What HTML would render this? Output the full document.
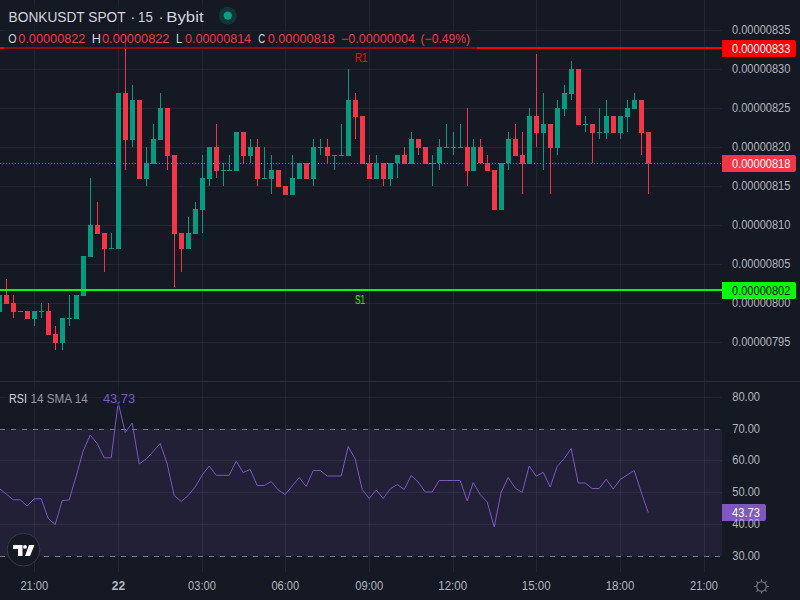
<!DOCTYPE html>
<html><head><meta charset="utf-8"><style>
html,body{margin:0;padding:0;width:800px;height:600px;overflow:hidden;background:#151924;}
svg{position:absolute;left:0;top:0;}
text{font-family:'Liberation Sans', sans-serif;}
</style></head><body>
<svg width="800" height="600" viewBox="0 0 800 600">
<rect shape-rendering="crispEdges" x="0" y="0" width="800" height="600" fill="#151924"/>
<rect shape-rendering="crispEdges" x="0" y="429" width="722" height="127" fill="#7E57C2" fill-opacity="0.12"/>
<rect shape-rendering="crispEdges" x="34" y="0" width="1" height="381" fill="#FFFFFF" fill-opacity="0.058"/>
<rect shape-rendering="crispEdges" x="34" y="382" width="1" height="190" fill="#FFFFFF" fill-opacity="0.058"/>
<rect shape-rendering="crispEdges" x="118" y="0" width="1" height="381" fill="#FFFFFF" fill-opacity="0.058"/>
<rect shape-rendering="crispEdges" x="118" y="382" width="1" height="190" fill="#FFFFFF" fill-opacity="0.058"/>
<rect shape-rendering="crispEdges" x="202" y="0" width="1" height="381" fill="#FFFFFF" fill-opacity="0.058"/>
<rect shape-rendering="crispEdges" x="202" y="382" width="1" height="190" fill="#FFFFFF" fill-opacity="0.058"/>
<rect shape-rendering="crispEdges" x="285" y="0" width="1" height="381" fill="#FFFFFF" fill-opacity="0.058"/>
<rect shape-rendering="crispEdges" x="285" y="382" width="1" height="190" fill="#FFFFFF" fill-opacity="0.058"/>
<rect shape-rendering="crispEdges" x="369" y="0" width="1" height="381" fill="#FFFFFF" fill-opacity="0.058"/>
<rect shape-rendering="crispEdges" x="369" y="382" width="1" height="190" fill="#FFFFFF" fill-opacity="0.058"/>
<rect shape-rendering="crispEdges" x="453" y="0" width="1" height="381" fill="#FFFFFF" fill-opacity="0.058"/>
<rect shape-rendering="crispEdges" x="453" y="382" width="1" height="190" fill="#FFFFFF" fill-opacity="0.058"/>
<rect shape-rendering="crispEdges" x="536" y="0" width="1" height="381" fill="#FFFFFF" fill-opacity="0.058"/>
<rect shape-rendering="crispEdges" x="536" y="382" width="1" height="190" fill="#FFFFFF" fill-opacity="0.058"/>
<rect shape-rendering="crispEdges" x="620" y="0" width="1" height="381" fill="#FFFFFF" fill-opacity="0.058"/>
<rect shape-rendering="crispEdges" x="620" y="382" width="1" height="190" fill="#FFFFFF" fill-opacity="0.058"/>
<rect shape-rendering="crispEdges" x="704" y="0" width="1" height="381" fill="#FFFFFF" fill-opacity="0.058"/>
<rect shape-rendering="crispEdges" x="704" y="382" width="1" height="190" fill="#FFFFFF" fill-opacity="0.058"/>
<rect shape-rendering="crispEdges" x="0" y="30" width="722" height="1" fill="#FFFFFF" fill-opacity="0.058"/>
<rect shape-rendering="crispEdges" x="0" y="69" width="722" height="1" fill="#FFFFFF" fill-opacity="0.058"/>
<rect shape-rendering="crispEdges" x="0" y="108" width="722" height="1" fill="#FFFFFF" fill-opacity="0.058"/>
<rect shape-rendering="crispEdges" x="0" y="147" width="722" height="1" fill="#FFFFFF" fill-opacity="0.058"/>
<rect shape-rendering="crispEdges" x="0" y="186" width="722" height="1" fill="#FFFFFF" fill-opacity="0.058"/>
<rect shape-rendering="crispEdges" x="0" y="225" width="722" height="1" fill="#FFFFFF" fill-opacity="0.058"/>
<rect shape-rendering="crispEdges" x="0" y="264" width="722" height="1" fill="#FFFFFF" fill-opacity="0.058"/>
<rect shape-rendering="crispEdges" x="0" y="303" width="722" height="1" fill="#FFFFFF" fill-opacity="0.058"/>
<rect shape-rendering="crispEdges" x="0" y="342" width="722" height="1" fill="#FFFFFF" fill-opacity="0.058"/>
<rect shape-rendering="crispEdges" x="0" y="397" width="722" height="1" fill="#FFFFFF" fill-opacity="0.058"/>
<rect shape-rendering="crispEdges" x="0" y="460" width="722" height="1" fill="#FFFFFF" fill-opacity="0.058"/>
<rect shape-rendering="crispEdges" x="0" y="492" width="722" height="1" fill="#FFFFFF" fill-opacity="0.058"/>
<rect shape-rendering="crispEdges" x="0" y="524" width="722" height="1" fill="#FFFFFF" fill-opacity="0.058"/>
<rect shape-rendering="crispEdges" x="0" y="381" width="800" height="1" fill="#2A2E39"/>
<rect shape-rendering="crispEdges" x="-1" y="295" width="1" height="17" fill="#089981"/>
<rect shape-rendering="crispEdges" x="-3" y="295" width="5" height="17" fill="#089981"/>
<rect shape-rendering="crispEdges" x="6" y="279" width="1" height="25" fill="#F23645"/>
<rect shape-rendering="crispEdges" x="4" y="295" width="5" height="9" fill="#F23645"/>
<rect shape-rendering="crispEdges" x="13" y="295" width="1" height="23" fill="#F23645"/>
<rect shape-rendering="crispEdges" x="11" y="303" width="5" height="9" fill="#F23645"/>
<rect shape-rendering="crispEdges" x="20" y="311" width="1" height="1" fill="#089981"/>
<rect shape-rendering="crispEdges" x="18" y="311" width="5" height="1" fill="#089981"/>
<rect shape-rendering="crispEdges" x="27" y="311" width="1" height="8" fill="#F23645"/>
<rect shape-rendering="crispEdges" x="25" y="311" width="5" height="8" fill="#F23645"/>
<rect shape-rendering="crispEdges" x="34" y="311" width="1" height="15" fill="#089981"/>
<rect shape-rendering="crispEdges" x="32" y="311" width="5" height="8" fill="#089981"/>
<rect shape-rendering="crispEdges" x="41" y="303" width="1" height="15" fill="#089981"/>
<rect shape-rendering="crispEdges" x="39" y="311" width="5" height="1" fill="#089981"/>
<rect shape-rendering="crispEdges" x="48" y="303" width="1" height="32" fill="#F23645"/>
<rect shape-rendering="crispEdges" x="46" y="311" width="5" height="24" fill="#F23645"/>
<rect shape-rendering="crispEdges" x="55" y="326" width="1" height="24" fill="#F23645"/>
<rect shape-rendering="crispEdges" x="53" y="334" width="5" height="9" fill="#F23645"/>
<rect shape-rendering="crispEdges" x="62" y="318" width="1" height="32" fill="#089981"/>
<rect shape-rendering="crispEdges" x="60" y="318" width="5" height="25" fill="#089981"/>
<rect shape-rendering="crispEdges" x="69" y="295" width="1" height="31" fill="#089981"/>
<rect shape-rendering="crispEdges" x="67" y="318" width="5" height="1" fill="#089981"/>
<rect shape-rendering="crispEdges" x="76" y="295" width="1" height="24" fill="#089981"/>
<rect shape-rendering="crispEdges" x="74" y="295" width="5" height="24" fill="#089981"/>
<rect shape-rendering="crispEdges" x="83" y="256" width="1" height="40" fill="#089981"/>
<rect shape-rendering="crispEdges" x="81" y="256" width="5" height="40" fill="#089981"/>
<rect shape-rendering="crispEdges" x="90" y="178" width="1" height="79" fill="#089981"/>
<rect shape-rendering="crispEdges" x="88" y="225" width="5" height="32" fill="#089981"/>
<rect shape-rendering="crispEdges" x="97" y="202" width="1" height="32" fill="#F23645"/>
<rect shape-rendering="crispEdges" x="95" y="225" width="5" height="9" fill="#F23645"/>
<rect shape-rendering="crispEdges" x="104" y="233" width="1" height="39" fill="#F23645"/>
<rect shape-rendering="crispEdges" x="102" y="233" width="5" height="16" fill="#F23645"/>
<rect shape-rendering="crispEdges" x="111" y="233" width="1" height="16" fill="#089981"/>
<rect shape-rendering="crispEdges" x="109" y="248" width="5" height="1" fill="#089981"/>
<rect shape-rendering="crispEdges" x="118" y="93" width="1" height="156" fill="#089981"/>
<rect shape-rendering="crispEdges" x="116" y="93" width="5" height="156" fill="#089981"/>
<rect shape-rendering="crispEdges" x="125" y="35" width="1" height="135" fill="#F23645"/>
<rect shape-rendering="crispEdges" x="123" y="93" width="5" height="47" fill="#F23645"/>
<rect shape-rendering="crispEdges" x="132" y="85" width="1" height="62" fill="#089981"/>
<rect shape-rendering="crispEdges" x="130" y="100" width="5" height="40" fill="#089981"/>
<rect shape-rendering="crispEdges" x="139" y="100" width="1" height="79" fill="#F23645"/>
<rect shape-rendering="crispEdges" x="137" y="100" width="5" height="79" fill="#F23645"/>
<rect shape-rendering="crispEdges" x="146" y="147" width="1" height="39" fill="#089981"/>
<rect shape-rendering="crispEdges" x="144" y="163" width="5" height="16" fill="#089981"/>
<rect shape-rendering="crispEdges" x="153" y="124" width="1" height="40" fill="#089981"/>
<rect shape-rendering="crispEdges" x="151" y="139" width="5" height="25" fill="#089981"/>
<rect shape-rendering="crispEdges" x="160" y="93" width="1" height="47" fill="#089981"/>
<rect shape-rendering="crispEdges" x="158" y="108" width="5" height="32" fill="#089981"/>
<rect shape-rendering="crispEdges" x="167" y="108" width="1" height="62" fill="#F23645"/>
<rect shape-rendering="crispEdges" x="165" y="108" width="5" height="48" fill="#F23645"/>
<rect shape-rendering="crispEdges" x="174" y="155" width="1" height="132" fill="#F23645"/>
<rect shape-rendering="crispEdges" x="172" y="155" width="5" height="79" fill="#F23645"/>
<rect shape-rendering="crispEdges" x="181" y="233" width="1" height="39" fill="#F23645"/>
<rect shape-rendering="crispEdges" x="179" y="233" width="5" height="16" fill="#F23645"/>
<rect shape-rendering="crispEdges" x="188" y="217" width="1" height="32" fill="#089981"/>
<rect shape-rendering="crispEdges" x="186" y="233" width="5" height="16" fill="#089981"/>
<rect shape-rendering="crispEdges" x="195" y="202" width="1" height="32" fill="#089981"/>
<rect shape-rendering="crispEdges" x="193" y="209" width="5" height="25" fill="#089981"/>
<rect shape-rendering="crispEdges" x="202" y="155" width="1" height="78" fill="#089981"/>
<rect shape-rendering="crispEdges" x="200" y="178" width="5" height="32" fill="#089981"/>
<rect shape-rendering="crispEdges" x="209" y="147" width="1" height="39" fill="#089981"/>
<rect shape-rendering="crispEdges" x="207" y="147" width="5" height="32" fill="#089981"/>
<rect shape-rendering="crispEdges" x="216" y="124" width="1" height="54" fill="#F23645"/>
<rect shape-rendering="crispEdges" x="214" y="147" width="5" height="24" fill="#F23645"/>
<rect shape-rendering="crispEdges" x="223" y="163" width="1" height="23" fill="#089981"/>
<rect shape-rendering="crispEdges" x="221" y="170" width="5" height="1" fill="#089981"/>
<rect shape-rendering="crispEdges" x="229" y="155" width="1" height="16" fill="#089981"/>
<rect shape-rendering="crispEdges" x="227" y="170" width="5" height="1" fill="#089981"/>
<rect shape-rendering="crispEdges" x="236" y="132" width="1" height="39" fill="#089981"/>
<rect shape-rendering="crispEdges" x="234" y="132" width="5" height="39" fill="#089981"/>
<rect shape-rendering="crispEdges" x="243" y="132" width="1" height="32" fill="#F23645"/>
<rect shape-rendering="crispEdges" x="241" y="132" width="5" height="24" fill="#F23645"/>
<rect shape-rendering="crispEdges" x="250" y="139" width="1" height="24" fill="#089981"/>
<rect shape-rendering="crispEdges" x="248" y="147" width="5" height="9" fill="#089981"/>
<rect shape-rendering="crispEdges" x="257" y="139" width="1" height="47" fill="#F23645"/>
<rect shape-rendering="crispEdges" x="255" y="147" width="5" height="32" fill="#F23645"/>
<rect shape-rendering="crispEdges" x="264" y="147" width="1" height="32" fill="#089981"/>
<rect shape-rendering="crispEdges" x="262" y="178" width="5" height="1" fill="#089981"/>
<rect shape-rendering="crispEdges" x="271" y="155" width="1" height="39" fill="#089981"/>
<rect shape-rendering="crispEdges" x="269" y="170" width="5" height="9" fill="#089981"/>
<rect shape-rendering="crispEdges" x="278" y="170" width="1" height="17" fill="#F23645"/>
<rect shape-rendering="crispEdges" x="276" y="170" width="5" height="17" fill="#F23645"/>
<rect shape-rendering="crispEdges" x="285" y="186" width="1" height="9" fill="#F23645"/>
<rect shape-rendering="crispEdges" x="283" y="186" width="5" height="9" fill="#F23645"/>
<rect shape-rendering="crispEdges" x="292" y="155" width="1" height="40" fill="#089981"/>
<rect shape-rendering="crispEdges" x="290" y="178" width="5" height="17" fill="#089981"/>
<rect shape-rendering="crispEdges" x="299" y="163" width="1" height="16" fill="#089981"/>
<rect shape-rendering="crispEdges" x="297" y="163" width="5" height="16" fill="#089981"/>
<rect shape-rendering="crispEdges" x="306" y="163" width="1" height="16" fill="#F23645"/>
<rect shape-rendering="crispEdges" x="304" y="163" width="5" height="16" fill="#F23645"/>
<rect shape-rendering="crispEdges" x="313" y="139" width="1" height="47" fill="#089981"/>
<rect shape-rendering="crispEdges" x="311" y="147" width="5" height="32" fill="#089981"/>
<rect shape-rendering="crispEdges" x="320" y="139" width="1" height="16" fill="#089981"/>
<rect shape-rendering="crispEdges" x="318" y="147" width="5" height="1" fill="#089981"/>
<rect shape-rendering="crispEdges" x="327" y="139" width="1" height="25" fill="#F23645"/>
<rect shape-rendering="crispEdges" x="325" y="147" width="5" height="9" fill="#F23645"/>
<rect shape-rendering="crispEdges" x="334" y="155" width="1" height="15" fill="#089981"/>
<rect shape-rendering="crispEdges" x="332" y="155" width="5" height="1" fill="#089981"/>
<rect shape-rendering="crispEdges" x="341" y="124" width="1" height="32" fill="#089981"/>
<rect shape-rendering="crispEdges" x="339" y="155" width="5" height="1" fill="#089981"/>
<rect shape-rendering="crispEdges" x="348" y="69" width="1" height="87" fill="#089981"/>
<rect shape-rendering="crispEdges" x="346" y="100" width="5" height="56" fill="#089981"/>
<rect shape-rendering="crispEdges" x="355" y="93" width="1" height="46" fill="#F23645"/>
<rect shape-rendering="crispEdges" x="353" y="100" width="5" height="17" fill="#F23645"/>
<rect shape-rendering="crispEdges" x="362" y="116" width="1" height="48" fill="#F23645"/>
<rect shape-rendering="crispEdges" x="360" y="116" width="5" height="48" fill="#F23645"/>
<rect shape-rendering="crispEdges" x="369" y="155" width="1" height="24" fill="#F23645"/>
<rect shape-rendering="crispEdges" x="367" y="163" width="5" height="16" fill="#F23645"/>
<rect shape-rendering="crispEdges" x="376" y="155" width="1" height="24" fill="#089981"/>
<rect shape-rendering="crispEdges" x="374" y="163" width="5" height="16" fill="#089981"/>
<rect shape-rendering="crispEdges" x="383" y="163" width="1" height="23" fill="#F23645"/>
<rect shape-rendering="crispEdges" x="381" y="163" width="5" height="16" fill="#F23645"/>
<rect shape-rendering="crispEdges" x="390" y="163" width="1" height="23" fill="#089981"/>
<rect shape-rendering="crispEdges" x="388" y="163" width="5" height="16" fill="#089981"/>
<rect shape-rendering="crispEdges" x="397" y="155" width="1" height="23" fill="#089981"/>
<rect shape-rendering="crispEdges" x="395" y="155" width="5" height="8" fill="#089981"/>
<rect shape-rendering="crispEdges" x="404" y="147" width="1" height="17" fill="#F23645"/>
<rect shape-rendering="crispEdges" x="402" y="155" width="5" height="9" fill="#F23645"/>
<rect shape-rendering="crispEdges" x="411" y="132" width="1" height="32" fill="#089981"/>
<rect shape-rendering="crispEdges" x="409" y="139" width="5" height="25" fill="#089981"/>
<rect shape-rendering="crispEdges" x="418" y="139" width="1" height="16" fill="#F23645"/>
<rect shape-rendering="crispEdges" x="416" y="139" width="5" height="9" fill="#F23645"/>
<rect shape-rendering="crispEdges" x="425" y="147" width="1" height="17" fill="#F23645"/>
<rect shape-rendering="crispEdges" x="423" y="147" width="5" height="17" fill="#F23645"/>
<rect shape-rendering="crispEdges" x="432" y="155" width="1" height="31" fill="#089981"/>
<rect shape-rendering="crispEdges" x="430" y="163" width="5" height="1" fill="#089981"/>
<rect shape-rendering="crispEdges" x="439" y="139" width="1" height="31" fill="#089981"/>
<rect shape-rendering="crispEdges" x="437" y="147" width="5" height="16" fill="#089981"/>
<rect shape-rendering="crispEdges" x="446" y="124" width="1" height="24" fill="#089981"/>
<rect shape-rendering="crispEdges" x="444" y="147" width="5" height="1" fill="#089981"/>
<rect shape-rendering="crispEdges" x="453" y="132" width="1" height="23" fill="#089981"/>
<rect shape-rendering="crispEdges" x="451" y="147" width="5" height="1" fill="#089981"/>
<rect shape-rendering="crispEdges" x="460" y="124" width="1" height="24" fill="#089981"/>
<rect shape-rendering="crispEdges" x="458" y="147" width="5" height="1" fill="#089981"/>
<rect shape-rendering="crispEdges" x="467" y="108" width="1" height="78" fill="#F23645"/>
<rect shape-rendering="crispEdges" x="465" y="147" width="5" height="24" fill="#F23645"/>
<rect shape-rendering="crispEdges" x="473" y="139" width="1" height="32" fill="#089981"/>
<rect shape-rendering="crispEdges" x="471" y="147" width="5" height="24" fill="#089981"/>
<rect shape-rendering="crispEdges" x="480" y="139" width="1" height="24" fill="#F23645"/>
<rect shape-rendering="crispEdges" x="478" y="147" width="5" height="16" fill="#F23645"/>
<rect shape-rendering="crispEdges" x="487" y="155" width="1" height="16" fill="#F23645"/>
<rect shape-rendering="crispEdges" x="485" y="163" width="5" height="8" fill="#F23645"/>
<rect shape-rendering="crispEdges" x="494" y="170" width="1" height="40" fill="#F23645"/>
<rect shape-rendering="crispEdges" x="492" y="170" width="5" height="40" fill="#F23645"/>
<rect shape-rendering="crispEdges" x="501" y="163" width="1" height="47" fill="#089981"/>
<rect shape-rendering="crispEdges" x="499" y="163" width="5" height="47" fill="#089981"/>
<rect shape-rendering="crispEdges" x="508" y="132" width="1" height="38" fill="#089981"/>
<rect shape-rendering="crispEdges" x="506" y="139" width="5" height="24" fill="#089981"/>
<rect shape-rendering="crispEdges" x="515" y="124" width="1" height="32" fill="#F23645"/>
<rect shape-rendering="crispEdges" x="513" y="139" width="5" height="17" fill="#F23645"/>
<rect shape-rendering="crispEdges" x="522" y="132" width="1" height="62" fill="#F23645"/>
<rect shape-rendering="crispEdges" x="520" y="155" width="5" height="9" fill="#F23645"/>
<rect shape-rendering="crispEdges" x="529" y="108" width="1" height="56" fill="#089981"/>
<rect shape-rendering="crispEdges" x="527" y="116" width="5" height="48" fill="#089981"/>
<rect shape-rendering="crispEdges" x="536" y="54" width="1" height="93" fill="#F23645"/>
<rect shape-rendering="crispEdges" x="534" y="116" width="5" height="17" fill="#F23645"/>
<rect shape-rendering="crispEdges" x="543" y="93" width="1" height="77" fill="#089981"/>
<rect shape-rendering="crispEdges" x="541" y="124" width="5" height="9" fill="#089981"/>
<rect shape-rendering="crispEdges" x="550" y="124" width="1" height="70" fill="#F23645"/>
<rect shape-rendering="crispEdges" x="548" y="124" width="5" height="24" fill="#F23645"/>
<rect shape-rendering="crispEdges" x="557" y="100" width="1" height="55" fill="#089981"/>
<rect shape-rendering="crispEdges" x="555" y="108" width="5" height="40" fill="#089981"/>
<rect shape-rendering="crispEdges" x="564" y="85" width="1" height="31" fill="#089981"/>
<rect shape-rendering="crispEdges" x="562" y="93" width="5" height="16" fill="#089981"/>
<rect shape-rendering="crispEdges" x="571" y="61" width="1" height="39" fill="#089981"/>
<rect shape-rendering="crispEdges" x="569" y="69" width="5" height="25" fill="#089981"/>
<rect shape-rendering="crispEdges" x="578" y="69" width="1" height="56" fill="#F23645"/>
<rect shape-rendering="crispEdges" x="576" y="69" width="5" height="56" fill="#F23645"/>
<rect shape-rendering="crispEdges" x="585" y="116" width="1" height="16" fill="#089981"/>
<rect shape-rendering="crispEdges" x="583" y="124" width="5" height="1" fill="#089981"/>
<rect shape-rendering="crispEdges" x="592" y="124" width="1" height="39" fill="#F23645"/>
<rect shape-rendering="crispEdges" x="590" y="124" width="5" height="9" fill="#F23645"/>
<rect shape-rendering="crispEdges" x="599" y="108" width="1" height="31" fill="#089981"/>
<rect shape-rendering="crispEdges" x="597" y="132" width="5" height="1" fill="#089981"/>
<rect shape-rendering="crispEdges" x="606" y="100" width="1" height="39" fill="#089981"/>
<rect shape-rendering="crispEdges" x="604" y="116" width="5" height="17" fill="#089981"/>
<rect shape-rendering="crispEdges" x="613" y="116" width="1" height="17" fill="#F23645"/>
<rect shape-rendering="crispEdges" x="611" y="116" width="5" height="17" fill="#F23645"/>
<rect shape-rendering="crispEdges" x="620" y="116" width="1" height="23" fill="#089981"/>
<rect shape-rendering="crispEdges" x="618" y="116" width="5" height="17" fill="#089981"/>
<rect shape-rendering="crispEdges" x="627" y="100" width="1" height="32" fill="#089981"/>
<rect shape-rendering="crispEdges" x="625" y="108" width="5" height="9" fill="#089981"/>
<rect shape-rendering="crispEdges" x="634" y="93" width="1" height="16" fill="#089981"/>
<rect shape-rendering="crispEdges" x="632" y="100" width="5" height="9" fill="#089981"/>
<rect shape-rendering="crispEdges" x="641" y="100" width="1" height="55" fill="#F23645"/>
<rect shape-rendering="crispEdges" x="639" y="100" width="5" height="33" fill="#F23645"/>
<rect shape-rendering="crispEdges" x="648" y="132" width="1" height="62" fill="#F23645"/>
<rect shape-rendering="crispEdges" x="646" y="132" width="5" height="32" fill="#F23645"/>
<line x1="0" y1="163.5" x2="722" y2="163.5" stroke="#F23645" stroke-width="1" stroke-dasharray="1 2"/>
<rect shape-rendering="crispEdges" x="0" y="47" width="722" height="2" fill="#FF0000"/>
<rect shape-rendering="crispEdges" x="0" y="289" width="722" height="2" fill="#00FF00"/>
<line x1="0" y1="429.5" x2="722" y2="429.5" stroke="#787B86" stroke-width="1" stroke-dasharray="5 6"/>
<line x1="0" y1="556.5" x2="722" y2="556.5" stroke="#787B86" stroke-width="1" stroke-dasharray="5 6"/>
<polyline points="-0.8,488.5 6.2,494.0 13.2,499.8 20.2,499.8 27.2,506.0 34.2,498.7 41.2,498.7 48.2,518.5 55.2,524.5 62.2,500.5 69.2,500.0 76.2,476.0 83.2,451.0 90.2,435.0 97.2,443.5 104.2,457.8 111.2,457.8 118.2,402.5 125.2,432.5 132.2,423.0 139.2,464.0 146.2,459.0 153.2,451.5 160.2,443.5 167.2,464.0 174.2,495.5 181.2,501.5 188.2,495.5 195.2,487.0 202.2,475.0 209.2,466.0 216.2,475.3 223.2,475.3 229.2,475.3 236.2,461.2 243.2,472.5 250.2,469.5 257.2,485.5 264.2,485.5 271.2,481.5 278.2,490.0 285.2,494.5 292.2,486.0 299.2,477.5 306.2,486.5 313.2,470.5 320.2,470.5 327.2,476.0 334.2,476.0 341.2,476.0 348.2,446.5 355.2,459.0 362.2,489.5 369.2,498.5 376.2,490.0 383.2,498.5 390.2,489.0 397.2,484.5 404.2,489.5 411.2,475.5 418.2,482.0 425.2,492.0 432.2,492.0 439.2,480.5 446.2,480.5 453.2,480.5 460.2,480.5 467.2,501.0 473.2,482.5 480.2,494.5 487.2,502.0 494.2,527.0 501.2,492.0 508.2,477.5 515.2,488.0 522.2,492.5 529.2,466.0 536.2,476.3 543.2,472.3 550.2,487.0 557.2,466.5 564.2,458.5 571.2,448.5 578.2,483.0 585.2,483.0 592.2,488.5 599.2,488.5 606.2,479.2 613.2,489.0 620.2,479.5 627.2,475.0 634.2,470.5 641.2,492.0 648.2,512.5" fill="none" stroke="#7E57C2" stroke-width="1" stroke-linejoin="round"/>
<rect shape-rendering="crispEdges" x="4" y="29" width="473" height="20" fill="#151924" fill-opacity="0.5"/>
<rect shape-rendering="crispEdges" x="4" y="4" width="240" height="24" fill="#151924" fill-opacity="0.5"/>
<rect shape-rendering="crispEdges" x="6" y="386" width="133" height="20" fill="#151924" fill-opacity="0.5"/>
<circle cx="227.7" cy="15.7" r="9" fill="#089981" fill-opacity="0.22"/>
<circle cx="227.8" cy="15.6" r="4.2" fill="#0A9E85"/>
<path d="M722,40 H794 a2,2 0 0 1 2,2 V55 a2,2 0 0 1 -2,2 H722 Z" fill="#FF0000"/>
<path d="M722,155 H794 a2,2 0 0 1 2,2 V170 a2,2 0 0 1 -2,2 H722 Z" fill="#F23645"/>
<path d="M722,282 H794 a2,2 0 0 1 2,2 V297 a2,2 0 0 1 -2,2 H722 Z" fill="#00FF00"/>
<path d="M722,504 H764 a2,2 0 0 1 2,2 V519 a2,2 0 0 1 -2,2 H722 Z" fill="#7E57C2"/>
<circle cx="23.5" cy="549.7" r="16.4" fill="#151924" stroke="#363A45" stroke-width="1"/>
<path d="M13,545 H22.5 V556 H18 V549 H13 Z" fill="#FFFFFF"/>
<circle cx="25" cy="546.9" r="1.9" fill="#FFFFFF"/>
<path d="M29,545 H34.5 L30,556 H25 Z" fill="#FFFFFF"/>
<g stroke="#787B86" stroke-width="1.1" fill="none">
<circle cx="761.5" cy="586.5" r="4.8"/>
<line x1="766.50" y1="586.50" x2="768.70" y2="586.50"/>
<line x1="765.04" y1="590.04" x2="766.59" y2="591.59"/>
<line x1="761.50" y1="591.50" x2="761.50" y2="593.70"/>
<line x1="757.96" y1="590.04" x2="756.41" y2="591.59"/>
<line x1="756.50" y1="586.50" x2="754.30" y2="586.50"/>
<line x1="757.96" y1="582.96" x2="756.41" y2="581.41"/>
<line x1="761.50" y1="581.50" x2="761.50" y2="579.30"/>
<line x1="765.04" y1="582.96" x2="766.59" y2="581.41"/>
</g>
<text x="8.62" y="22" font-size="14" font-weight="normal" fill="#D1D4DC" textLength="116.93" lengthAdjust="spacingAndGlyphs">BONKUSDT SPOT</text>
<text x="130.60" y="22" font-size="14" font-weight="normal" fill="#D1D4DC" textLength="4.67" lengthAdjust="spacingAndGlyphs">·</text>
<text x="138.06" y="22" font-size="14" font-weight="normal" fill="#D1D4DC" textLength="14.69" lengthAdjust="spacingAndGlyphs">15</text>
<text x="158.70" y="22" font-size="14" font-weight="normal" fill="#D1D4DC" textLength="4.67" lengthAdjust="spacingAndGlyphs">·</text>
<text x="166.30" y="22" font-size="14" font-weight="normal" fill="#D1D4DC" textLength="37.25" lengthAdjust="spacingAndGlyphs">Bybit</text>
<text x="8.25" y="43" font-size="12" font-weight="normal" fill="#D1D4DC" textLength="8.31" lengthAdjust="spacingAndGlyphs">O</text>
<text x="18.25" y="43" font-size="12" font-weight="normal" fill="#F23645" textLength="67.18" lengthAdjust="spacingAndGlyphs">0.00000822</text>
<text x="91.84" y="43" font-size="12" font-weight="normal" fill="#D1D4DC" textLength="9.17" lengthAdjust="spacingAndGlyphs">H</text>
<text x="102.00" y="43" font-size="12" font-weight="normal" fill="#F23645" textLength="67.43" lengthAdjust="spacingAndGlyphs">0.00000822</text>
<text x="176.08" y="43" font-size="12" font-weight="normal" fill="#D1D4DC" textLength="6.13" lengthAdjust="spacingAndGlyphs">L</text>
<text x="185.00" y="43" font-size="12" font-weight="normal" fill="#F23645" textLength="66.08" lengthAdjust="spacingAndGlyphs">0.00000814</text>
<text x="258.30" y="43" font-size="12" font-weight="normal" fill="#D1D4DC" textLength="6.94" lengthAdjust="spacingAndGlyphs">C</text>
<text x="267.70" y="43" font-size="12" font-weight="normal" fill="#F23645" textLength="67.23" lengthAdjust="spacingAndGlyphs">0.00000818</text>
<text x="340.85" y="43" font-size="12" font-weight="normal" fill="#F23645" textLength="74.13" lengthAdjust="spacingAndGlyphs">−0.00000004</text>
<text x="420.60" y="43" font-size="12" font-weight="normal" fill="#F23645" textLength="49.43" lengthAdjust="spacingAndGlyphs">(−0.49%)</text>
<text x="354.68" y="62" font-size="12" font-weight="normal" fill="#FF0000" textLength="12.60" lengthAdjust="spacingAndGlyphs">R1</text>
<text x="355.00" y="304" font-size="12" font-weight="normal" fill="#00FF00" textLength="10.28" lengthAdjust="spacingAndGlyphs">S1</text>
<text x="732.00" y="34.3" font-size="12" font-weight="normal" fill="#B2B5BE" textLength="58.37" lengthAdjust="spacingAndGlyphs">0.00000835</text>
<text x="732.00" y="73.3" font-size="12" font-weight="normal" fill="#B2B5BE" textLength="58.37" lengthAdjust="spacingAndGlyphs">0.00000830</text>
<text x="732.00" y="112.3" font-size="12" font-weight="normal" fill="#B2B5BE" textLength="58.37" lengthAdjust="spacingAndGlyphs">0.00000825</text>
<text x="732.00" y="151.3" font-size="12" font-weight="normal" fill="#B2B5BE" textLength="58.37" lengthAdjust="spacingAndGlyphs">0.00000820</text>
<text x="732.00" y="190.3" font-size="12" font-weight="normal" fill="#B2B5BE" textLength="58.37" lengthAdjust="spacingAndGlyphs">0.00000815</text>
<text x="732.00" y="229.3" font-size="12" font-weight="normal" fill="#B2B5BE" textLength="58.37" lengthAdjust="spacingAndGlyphs">0.00000810</text>
<text x="732.00" y="268.3" font-size="12" font-weight="normal" fill="#B2B5BE" textLength="58.37" lengthAdjust="spacingAndGlyphs">0.00000805</text>
<text x="732.00" y="307.3" font-size="12" font-weight="normal" fill="#B2B5BE" textLength="58.37" lengthAdjust="spacingAndGlyphs">0.00000800</text>
<text x="732.00" y="346.3" font-size="12" font-weight="normal" fill="#B2B5BE" textLength="58.37" lengthAdjust="spacingAndGlyphs">0.00000795</text>
<text x="732.00" y="52.8" font-size="12" font-weight="normal" fill="#FFFFFF" textLength="58.37" lengthAdjust="spacingAndGlyphs">0.00000833</text>
<text x="732.00" y="167.8" font-size="12" font-weight="normal" fill="#FFFFFF" textLength="58.37" lengthAdjust="spacingAndGlyphs">0.00000818</text>
<text x="732.00" y="294.8" font-size="12" font-weight="normal" fill="#000000" textLength="58.37" lengthAdjust="spacingAndGlyphs">0.00000802</text>
<text x="9.11" y="403" font-size="12" font-weight="normal" fill="#D1D4DC" textLength="17.79" lengthAdjust="spacingAndGlyphs">RSI</text>
<text x="30.53" y="403" font-size="12" font-weight="normal" fill="#9598A1" textLength="57.20" lengthAdjust="spacingAndGlyphs">14 SMA 14</text>
<text x="103.00" y="403" font-size="12" font-weight="normal" fill="#7E57C2" textLength="32.03" lengthAdjust="spacingAndGlyphs">43.73</text>
<text x="732.25" y="401.3" font-size="12" font-weight="normal" fill="#B2B5BE" textLength="27.78" lengthAdjust="spacingAndGlyphs">80.00</text>
<text x="732.25" y="433.3" font-size="12" font-weight="normal" fill="#B2B5BE" textLength="27.78" lengthAdjust="spacingAndGlyphs">70.00</text>
<text x="732.25" y="464.3" font-size="12" font-weight="normal" fill="#B2B5BE" textLength="27.78" lengthAdjust="spacingAndGlyphs">60.00</text>
<text x="732.25" y="496.3" font-size="12" font-weight="normal" fill="#B2B5BE" textLength="27.78" lengthAdjust="spacingAndGlyphs">50.00</text>
<text x="732.25" y="528.3" font-size="12" font-weight="normal" fill="#B2B5BE" textLength="27.78" lengthAdjust="spacingAndGlyphs">40.00</text>
<text x="732.25" y="560.3" font-size="12" font-weight="normal" fill="#B2B5BE" textLength="27.78" lengthAdjust="spacingAndGlyphs">30.00</text>
<text x="732.00" y="516.8" font-size="12" font-weight="normal" fill="#FFFFFF" textLength="28.03" lengthAdjust="spacingAndGlyphs">43.73</text>
<text x="20.40" y="590" font-size="12" font-weight="normal" fill="#B2B5BE" textLength="27.83" lengthAdjust="spacingAndGlyphs">21:00</text>
<text x="111.75" y="590" font-size="12" font-weight="bold" fill="#B2B5BE" textLength="13.36" lengthAdjust="spacingAndGlyphs">22</text>
<text x="188.10" y="590" font-size="12" font-weight="normal" fill="#B2B5BE" textLength="27.83" lengthAdjust="spacingAndGlyphs">03:00</text>
<text x="271.40" y="590" font-size="12" font-weight="normal" fill="#B2B5BE" textLength="27.83" lengthAdjust="spacingAndGlyphs">06:00</text>
<text x="355.30" y="590" font-size="12" font-weight="normal" fill="#B2B5BE" textLength="27.83" lengthAdjust="spacingAndGlyphs">09:00</text>
<text x="438.34" y="590" font-size="12" font-weight="normal" fill="#B2B5BE" textLength="28.79" lengthAdjust="spacingAndGlyphs">12:00</text>
<text x="521.84" y="590" font-size="12" font-weight="normal" fill="#B2B5BE" textLength="28.79" lengthAdjust="spacingAndGlyphs">15:00</text>
<text x="605.64" y="590" font-size="12" font-weight="normal" fill="#B2B5BE" textLength="28.79" lengthAdjust="spacingAndGlyphs">18:00</text>
<text x="690.10" y="590" font-size="12" font-weight="normal" fill="#B2B5BE" textLength="27.83" lengthAdjust="spacingAndGlyphs">21:00</text>
</svg>
</body></html>
